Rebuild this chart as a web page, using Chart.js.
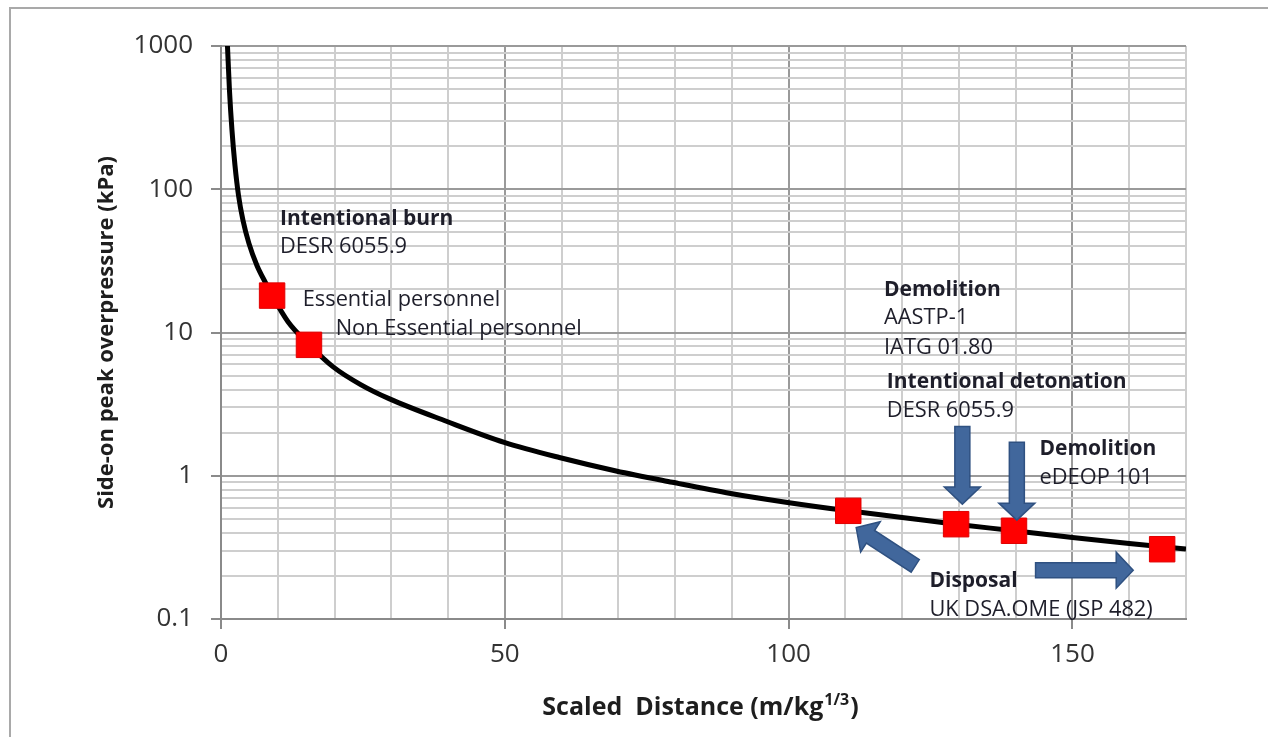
<!DOCTYPE html>
<html>
<head>
<meta charset="utf-8">
<script src="https://cdn.jsdelivr.net/npm/chart.js@4.4.1/dist/chart.umd.min.js"></script>
<style>
    html, body { margin: 0; padding: 0; background: #ffffff; }
    canvas { display: block; }
</style>
</head>
<body>
<canvas id="grafiek" width="1268" height="737"></canvas>
<script>
// de data van de curve (scaled distance tegen overdruk)
var curveX = [1.14, 1.49, 1.93, 2.46, 3.08, 3.87, 4.92, 6.33, 7.91, 9.02, 11.8, 15.5, 19.7, 24.6, 29.7, 39.7, 49.9, 59.6, 69.6, 79.5, 89.8, 99.8, 110.5, 120, 129.5, 139.7, 150, 160, 170];
var curveY = [1000, 492, 259, 147, 90.8, 60.7, 41.9, 29.4, 22.0, 18.1, 11.9, 8.25, 5.78, 4.33, 3.44, 2.40, 1.71, 1.34, 1.08, 0.90, 0.752, 0.651, 0.569, 0.512, 0.459, 0.413, 0.37, 0.336, 0.308];

// de rode punten op de curve
var markerX = [9.0, 15.5, 110.5, 129.5, 139.7, 165.8];
var markerY = [18.1, 8.2, 0.569, 0.459, 0.413, 0.307];

// labels van de assen
var xLabelValues = [0, 50, 100, 150];
var yLabelValues = [0.1, 1, 10, 100, 1000];
var yMinorFactors = [2, 3, 4, 5, 6, 7, 8, 9];

// teksten in de grafiek, positie in data-coordinaten (x, y = basislijn)
var annotations = [
    { text: 'Intentional burn', x: 10.4, y: 56.0, bold: true },
    { text: 'DESR 6055.9', x: 10.4, y: 35.7, bold: false },
    { text: 'Essential personnel', x: 14.4, y: 15.2, bold: false },
    { text: 'Non Essential personnel', x: 20.2, y: 9.53, bold: false },
    { text: 'Demolition', x: 116.8, y: 18.1, bold: true },
    { text: 'AASTP-1', x: 116.8, y: 11.4, bold: false },
    { text: 'IATG 01.80', x: 116.8, y: 7.13, bold: false },
    { text: 'Intentional detonation', x: 117.3, y: 4.12, bold: true },
    { text: 'DESR 6055.9', x: 117.3, y: 2.59, bold: false },
    { text: 'Demolition', x: 144.2, y: 1.40, bold: true },
    { text: 'eDEOP 101', x: 144.2, y: 0.88, bold: false },
    { text: 'Disposal', x: 124.8, y: 0.1675, bold: true },
    { text: 'UK DSA.OME (JSP 482)', x: 124.8, y: 0.105, bold: false }
];

// pijlen: van staart naar punt, in data-coordinaten
var arrows = [
    { x1: 130.6, y1: 2.21, x2: 130.6, y2: 0.634 },
    { x1: 140.2, y1: 1.71, x2: 140.2, y2: 0.49 },
    { x1: 122.3, y1: 0.235, x2: 111.9, y2: 0.435 },
    { x1: 143.5, y1: 0.219, x2: 160.7, y2: 0.219 }
];

var fontFamily = "'Open Sans', 'DejaVu Sans', sans-serif";

function isDecade(v) {
    var l = Math.log10(v);
    return Math.abs(l - Math.round(l)) < 1e-9;
}

// alle tick waarden voor de log-as (decades + tussenliggende lijnen)
function buildYTicks() {
    var ticks = [];
    for (var i = 0; i < yLabelValues.length; i++) {
        ticks.push({ value: yLabelValues[i], major: true });
        if (i < yLabelValues.length - 1) {
            for (var j = 0; j < yMinorFactors.length; j++) {
                ticks.push({ value: yLabelValues[i] * yMinorFactors[j], major: false });
            }
        }
    }
    return ticks;
}

// pijl tekenen als blok-pijl
function drawArrow(ctx, x1, y1, x2, y2) {
    var shaft = 15, head = 36, headLen = 17;
    var dx = x2 - x1, dy = y2 - y1;
    var len = Math.hypot(dx, dy);
    var ux = dx / len, uy = dy / len;
    var nx = -uy, ny = ux;
    var bx = x2 - ux * headLen, by = y2 - uy * headLen;
    ctx.beginPath();
    ctx.moveTo(x1 + nx * shaft / 2, y1 + ny * shaft / 2);
    ctx.lineTo(bx + nx * shaft / 2, by + ny * shaft / 2);
    ctx.lineTo(bx + nx * head / 2, by + ny * head / 2);
    ctx.lineTo(x2, y2);
    ctx.lineTo(bx - nx * head / 2, by - ny * head / 2);
    ctx.lineTo(bx - nx * shaft / 2, by - ny * shaft / 2);
    ctx.lineTo(x1 - nx * shaft / 2, y1 - ny * shaft / 2);
    ctx.closePath();
    ctx.fill();
    ctx.stroke();
}

var extrasPlugin = {
    id: 'extras',
    beforeDraw: function (chart) {
        var ctx = chart.ctx;
        ctx.save();
        ctx.fillStyle = '#ffffff';
        ctx.fillRect(0, 0, chart.width, chart.height);
        // grijze rand links en boven
        ctx.strokeStyle = '#a9a9a9';
        ctx.lineWidth = 2;
        ctx.beginPath();
        ctx.moveTo(10, chart.height);
        ctx.lineTo(10, 8);
        ctx.lineTo(chart.width, 8);
        ctx.stroke();
        ctx.restore();
    },
    beforeDatasetsDraw: function (chart) {
        var ctx = chart.ctx;
        var xs = chart.scales.x, ys = chart.scales.y;
        ctx.save();
        ctx.fillStyle = '#1e1e2a';
        ctx.textBaseline = 'alphabetic';
        ctx.textAlign = 'left';
        annotations.forEach(function (a) {
            ctx.font = (a.bold ? 'bold 21px ' : '21.8px ') + fontFamily;
            ctx.fillText(a.text, xs.getPixelForValue(a.x), ys.getPixelForValue(a.y));
        });
        ctx.restore();
    },
    afterDatasetsDraw: function (chart) {
        var ctx = chart.ctx;
        var xs = chart.scales.x, ys = chart.scales.y;
        ctx.save();
        ctx.fillStyle = '#41679c';
        ctx.strokeStyle = '#2f5181';
        ctx.lineWidth = 1.5;
        ctx.lineJoin = 'miter';
        arrows.forEach(function (p) {
            drawArrow(ctx, xs.getPixelForValue(p.x1), ys.getPixelForValue(p.y1),
                xs.getPixelForValue(p.x2), ys.getPixelForValue(p.y2));
        });
        ctx.restore();
    },
    afterDraw: function (chart) {
        // titel x-as met superscript 1/3
        var ctx = chart.ctx;
        var area = chart.chartArea;
        var main = 'Scaled  Distance (m/kg', sup = '1/3', end = ')';
        ctx.save();
        ctx.fillStyle = '#1e1e1e';
        ctx.textBaseline = 'alphabetic';
        ctx.textAlign = 'left';
        var bigFont = 'bold 25px ' + fontFamily, smallFont = 'bold 16px ' + fontFamily;
        ctx.font = bigFont;
        var w1 = ctx.measureText(main).width, w3 = ctx.measureText(end).width;
        ctx.font = smallFont;
        var w2 = ctx.measureText(sup).width;
        var x = (area.left + area.right) / 2 - 4 - (w1 + w2 + w3) / 2;
        var base = 715;
        ctx.font = bigFont;
        ctx.fillText(main, x, base);
        ctx.font = smallFont;
        ctx.fillText(sup, x + w1 + 1, base - 10);
        ctx.font = bigFont;
        ctx.fillText(end, x + w1 + w2 + 2, base);
        ctx.restore();
    }
};

var curveData = curveX.map(function (x, i) { return { x: x, y: curveY[i] }; });
var markerData = markerX.map(function (x, i) { return { x: x, y: markerY[i] }; });

var chart = new Chart(document.getElementById('grafiek'), {
    type: 'line',
    data: {
        datasets: [
            {
                type: 'scatter',
                data: markerData,
                pointStyle: 'rect',
                pointRadius: 18,
                pointHoverRadius: 18,
                backgroundColor: '#ff0000',
                borderColor: '#e00000',
                borderWidth: 1,
                showLine: false,
                order: 0
            },
            {
                data: curveData,
                borderColor: '#000000',
                borderWidth: 5,
                pointRadius: 0,
                fill: false,
                cubicInterpolationMode: 'monotone',
                order: 1
            }
        ]
    },
    options: {
        responsive: false,
        devicePixelRatio: 1,
        animation: false,
        layout: { padding: { left: 0, right: 82, top: 46, bottom: 0 } },
        plugins: {
            legend: { display: false },
            tooltip: { enabled: false }
        },
        scales: {
            x: {
                type: 'linear',
                min: 0,
                max: 170,
                afterFit: function (scale) { scale.height = 118; },
                ticks: {
                    stepSize: 10,
                    autoSkip: false,
                    maxRotation: 0,
                    padding: 10,
                    color: '#333333',
                    font: { family: fontFamily, size: 26 },
                    callback: function (v) { return xLabelValues.indexOf(v) >= 0 ? String(v) : ''; }
                },
                grid: {
                    lineWidth: 2,
                    tickLength: 10,
                    color: function (c) { return c.tick && c.tick.value % 50 == 0 ? '#9a9a9a' : '#cecece'; },
                    tickColor: function (c) { return c.tick && xLabelValues.indexOf(c.tick.value) >= 0 ? '#8a8a8a' : 'rgba(0,0,0,0)'; }
                },
                border: { color: '#8a8a8a', width: 2 }
            },
            y: {
                type: 'logarithmic',
                min: 0.1,
                max: 1000,
                afterBuildTicks: function (scale) { scale.ticks = buildYTicks(); },
                afterFit: function (scale) { scale.width = 221; },
                title: {
                    display: true,
                    text: 'Side-on peak overpressure (kPa)',
                    color: '#1e1e1e',
                    font: { family: fontFamily, size: 22, weight: 'bold' },
                    padding: { top: 94, bottom: 0 }
                },
                ticks: {
                    autoSkip: false,
                    padding: 18,
                    color: '#333333',
                    font: { family: fontFamily, size: 26 },
                    callback: function (v) { return isDecade(v) ? String(v) : ''; }
                },
                grid: {
                    lineWidth: 2,
                    tickLength: 10,
                    color: function (c) { return c.tick && isDecade(c.tick.value) ? '#9a9a9a' : '#cecece'; },
                    tickColor: function (c) { return c.tick && isDecade(c.tick.value) ? '#8a8a8a' : 'rgba(0,0,0,0)'; }
                },
                border: { color: '#8a8a8a', width: 2 }
            }
        }
    },
    plugins: [extrasPlugin]
});
</script>
</body>
</html>
